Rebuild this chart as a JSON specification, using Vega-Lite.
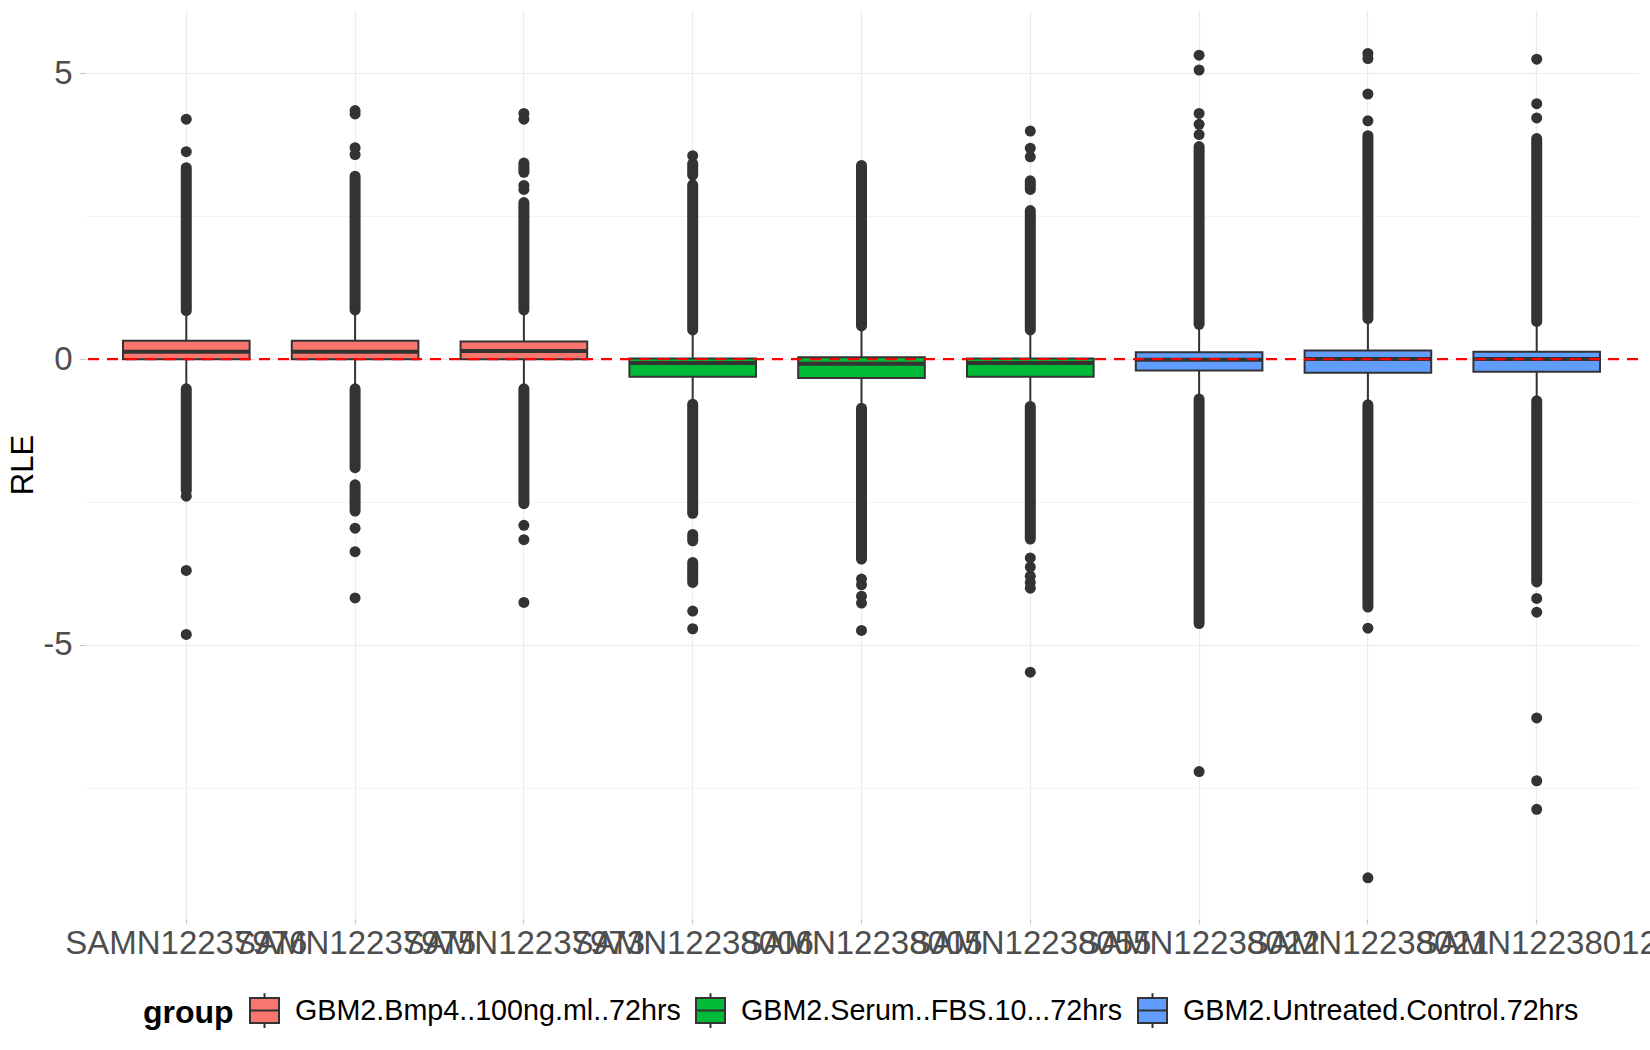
{
  "$schema": "https://vega.github.io/schema/vega-lite/v6.json",
  "width": 1553,
  "height": 909,
  "autosize": {"type": "none"},
  "padding": {"left": 85, "top": 10, "right": 12, "bottom": 131},
  "background": "white",
  "config": {"view": {"stroke": null}, "font": "Liberation Sans"},
  "datasets": {
    "boxes": [
      {"sample": "SAMN12237976", "group": "GBM2.Bmp4..100ng.ml..72hrs", "lo": -0.52, "q1": -0.005, "median": 0.13, "q3": 0.32, "hi": 0.85},
      {"sample": "SAMN12237975", "group": "GBM2.Bmp4..100ng.ml..72hrs", "lo": -0.52, "q1": -0.005, "median": 0.13, "q3": 0.32, "hi": 0.86},
      {"sample": "SAMN12237973", "group": "GBM2.Bmp4..100ng.ml..72hrs", "lo": -0.52, "q1": -0.005, "median": 0.14, "q3": 0.31, "hi": 0.86},
      {"sample": "SAMN12238006", "group": "GBM2.Serum..FBS.10...72hrs", "lo": -0.79, "q1": -0.31, "median": -0.07, "q3": 0.01, "hi": 0.51},
      {"sample": "SAMN12238005", "group": "GBM2.Serum..FBS.10...72hrs", "lo": -0.86, "q1": -0.33, "median": -0.08, "q3": 0.03, "hi": 0.58},
      {"sample": "SAMN12238055", "group": "GBM2.Serum..FBS.10...72hrs", "lo": -0.83, "q1": -0.31, "median": -0.07, "q3": 0.01, "hi": 0.51},
      {"sample": "SAMN12238022", "group": "GBM2.Untreated.Control.72hrs", "lo": -0.70, "q1": -0.20, "median": -0.01, "q3": 0.12, "hi": 0.61},
      {"sample": "SAMN12238021", "group": "GBM2.Untreated.Control.72hrs", "lo": -0.80, "q1": -0.24, "median": 0.0, "q3": 0.15, "hi": 0.71},
      {"sample": "SAMN12238012", "group": "GBM2.Untreated.Control.72hrs", "lo": -0.73, "q1": -0.22, "median": 0.0, "q3": 0.13, "hi": 0.66}
    ],
    "runs": [
      {"sample": "SAMN12237976", "lo": 0.85, "hi": 3.35},
      {"sample": "SAMN12237976", "lo": -0.52, "hi": -2.30},
      {"sample": "SAMN12237975", "lo": 0.86, "hi": 3.20},
      {"sample": "SAMN12237975", "lo": -0.52, "hi": -1.90},
      {"sample": "SAMN12237975", "lo": -2.20, "hi": -2.66},
      {"sample": "SAMN12237973", "lo": 0.86, "hi": 2.74},
      {"sample": "SAMN12237973", "lo": 3.27, "hi": 3.43},
      {"sample": "SAMN12237973", "lo": -0.52, "hi": -2.53},
      {"sample": "SAMN12238006", "lo": 0.51, "hi": 3.05},
      {"sample": "SAMN12238006", "lo": 3.22, "hi": 3.42},
      {"sample": "SAMN12238006", "lo": -0.79, "hi": -2.70},
      {"sample": "SAMN12238006", "lo": -3.07, "hi": -3.18},
      {"sample": "SAMN12238006", "lo": -3.56, "hi": -3.91},
      {"sample": "SAMN12238005", "lo": 0.58, "hi": 3.39},
      {"sample": "SAMN12238005", "lo": -0.86, "hi": -3.50},
      {"sample": "SAMN12238055", "lo": 0.51, "hi": 2.60},
      {"sample": "SAMN12238055", "lo": 2.97, "hi": 3.12},
      {"sample": "SAMN12238055", "lo": -0.83, "hi": -3.15},
      {"sample": "SAMN12238022", "lo": 0.61, "hi": 3.72},
      {"sample": "SAMN12238022", "lo": -0.70, "hi": -4.63},
      {"sample": "SAMN12238021", "lo": 0.71, "hi": 3.91},
      {"sample": "SAMN12238021", "lo": -0.80, "hi": -4.34},
      {"sample": "SAMN12238012", "lo": 0.66, "hi": 3.86},
      {"sample": "SAMN12238012", "lo": -0.73, "hi": -3.90}
    ],
    "points": [
      {"sample": "SAMN12237976", "rle": 4.20},
      {"sample": "SAMN12237976", "rle": 3.63},
      {"sample": "SAMN12237976", "rle": -2.40},
      {"sample": "SAMN12237976", "rle": -3.70},
      {"sample": "SAMN12237976", "rle": -4.82},
      {"sample": "SAMN12237975", "rle": 4.35},
      {"sample": "SAMN12237975", "rle": 4.29},
      {"sample": "SAMN12237975", "rle": 3.70},
      {"sample": "SAMN12237975", "rle": 3.58},
      {"sample": "SAMN12237975", "rle": -2.96},
      {"sample": "SAMN12237975", "rle": -3.37},
      {"sample": "SAMN12237975", "rle": -4.18},
      {"sample": "SAMN12237973", "rle": 4.30},
      {"sample": "SAMN12237973", "rle": 4.20},
      {"sample": "SAMN12237973", "rle": 3.04},
      {"sample": "SAMN12237973", "rle": 2.97},
      {"sample": "SAMN12237973", "rle": -2.91},
      {"sample": "SAMN12237973", "rle": -3.16},
      {"sample": "SAMN12237973", "rle": -4.26},
      {"sample": "SAMN12238006", "rle": 3.56},
      {"sample": "SAMN12238006", "rle": -4.41},
      {"sample": "SAMN12238006", "rle": -4.72},
      {"sample": "SAMN12238005", "rle": -3.85},
      {"sample": "SAMN12238005", "rle": -3.95},
      {"sample": "SAMN12238005", "rle": -4.15},
      {"sample": "SAMN12238005", "rle": -4.27},
      {"sample": "SAMN12238005", "rle": -4.75},
      {"sample": "SAMN12238055", "rle": 3.99},
      {"sample": "SAMN12238055", "rle": 3.69},
      {"sample": "SAMN12238055", "rle": 3.54},
      {"sample": "SAMN12238055", "rle": -3.48},
      {"sample": "SAMN12238055", "rle": -3.64},
      {"sample": "SAMN12238055", "rle": -3.80},
      {"sample": "SAMN12238055", "rle": -3.91},
      {"sample": "SAMN12238055", "rle": -4.01},
      {"sample": "SAMN12238055", "rle": -5.48},
      {"sample": "SAMN12238022", "rle": 5.32},
      {"sample": "SAMN12238022", "rle": 5.06},
      {"sample": "SAMN12238022", "rle": 4.30},
      {"sample": "SAMN12238022", "rle": 4.11},
      {"sample": "SAMN12238022", "rle": 3.93},
      {"sample": "SAMN12238022", "rle": -7.22},
      {"sample": "SAMN12238021", "rle": 5.35},
      {"sample": "SAMN12238021", "rle": 5.26},
      {"sample": "SAMN12238021", "rle": 4.64},
      {"sample": "SAMN12238021", "rle": 4.17},
      {"sample": "SAMN12238021", "rle": -4.71},
      {"sample": "SAMN12238021", "rle": -9.08},
      {"sample": "SAMN12238012", "rle": 5.25},
      {"sample": "SAMN12238012", "rle": 4.47},
      {"sample": "SAMN12238012", "rle": 4.22},
      {"sample": "SAMN12238012", "rle": -4.19},
      {"sample": "SAMN12238012", "rle": -4.43},
      {"sample": "SAMN12238012", "rle": -6.28},
      {"sample": "SAMN12238012", "rle": -7.38},
      {"sample": "SAMN12238012", "rle": -7.88}
    ]
  },
  "layer": [
    {
      "data": {"name": "runs"},
      "mark": {"type": "rule", "color": "#333333", "strokeWidth": 11, "strokeCap": "round"},
      "encoding": {
        "x": {
          "field": "sample",
          "type": "nominal",
          "sort": null,
          "scale": {
            "domain": ["SAMN12237976", "SAMN12237975", "SAMN12237973", "SAMN12238006", "SAMN12238005", "SAMN12238055", "SAMN12238022", "SAMN12238021", "SAMN12238012"],
            "paddingInner": 0.25,
            "paddingOuter": 0.225
          },
          "axis": {
            "title": null,
            "labelAngle": 0,
            "labelFontSize": 33,
            "labelColor": "#4D4D4D",
            "labelOverlap": false,
            "labelBound": false,
            "labelLimit": 1000,
            "labelPadding": 3,
            "domain": false,
            "ticks": true,
            "tickSize": 5,
            "tickColor": "#C8C8C8",
            "tickWidth": 1.2,
            "grid": true,
            "gridColor": "#EBEBEB",
            "gridWidth": 1.2,
            "bandPosition": 0.5
          }
        },
        "y": {
          "field": "lo",
          "type": "quantitative",
          "scale": {"domain": [-9.8, 6.11], "nice": false, "zero": false},
          "axis": {
            "title": "RLE",
            "titleFontSize": 31,
            "titleColor": "black",
            "titleFontWeight": "normal",
            "titlePadding": 3,
            "values": [-7.5, -5, -2.5, 0, 2.5, 5],
            "labelExpr": "datum.value % 5 == 0 ? (datum.value < 0 ? '-' + abs(datum.value) : '' + datum.value) : ''",
            "labelFontSize": 33,
            "labelColor": "#4D4D4D",
            "labelPadding": 7,
            "domain": false,
            "tickSize": 6,
            "tickColor": "#C8C8C8",
            "tickWidth": 1.2,
            "tickOpacity": {"condition": {"test": "datum.value % 5 == 0", "value": 1}, "value": 0},
            "grid": true,
            "gridColor": "#EBEBEB",
            "gridWidth": {"condition": {"test": "datum.value % 5 == 0", "value": 1.2}, "value": 0.6}
          }
        },
        "y2": {"field": "hi"}
      }
    },
    {
      "data": {"name": "points"},
      "mark": {"type": "point", "filled": true, "shape": "circle", "color": "#333333", "opacity": 1, "size": 121, "strokeWidth": 0},
      "encoding": {
        "x": {"field": "sample", "type": "nominal", "sort": null},
        "y": {"field": "rle", "type": "quantitative", "title": "RLE"}
      }
    },
    {
      "data": {"name": "boxes"},
      "mark": {"type": "rule", "color": "#333333", "strokeWidth": 2},
      "encoding": {
        "x": {"field": "sample", "type": "nominal", "sort": null},
        "y": {"field": "lo", "type": "quantitative", "title": "RLE"},
        "y2": {"field": "hi"}
      }
    },
    {
      "data": {"name": "boxes"},
      "mark": {"type": "bar", "stroke": "#333333", "strokeWidth": 2, "opacity": 1},
      "encoding": {
        "x": {"field": "sample", "type": "nominal", "sort": null},
        "y": {"field": "q1", "type": "quantitative", "title": "RLE"},
        "y2": {"field": "q3"},
        "fill": {
          "field": "group",
          "type": "nominal",
          "scale": {
            "domain": ["GBM2.Bmp4..100ng.ml..72hrs", "GBM2.Serum..FBS.10...72hrs", "GBM2.Untreated.Control.72hrs"],
            "range": ["#F8766D", "#00BA38", "#619CFF"]
          },
          "legend": {
            "title": "group",
            "orient": "none",
            "legendX": 58,
            "legendY": 985,
            "direction": "horizontal",
            "titleOrient": "left",
            "titleFontSize": 32,
            "titleFontWeight": "bold",
            "titleColor": "black",
            "titlePadding": 15,
            "labelFontSize": 28.7,
            "labelColor": "black",
            "labelOffset": 15,
            "columnPadding": 11,
            "labelLimit": 1000,
            "symbolType": "M-1,-0.86H1V0.86H-1Z M0,-0.86V-1.2 M0,0.86V1.2 M-1,0H1",
            "symbolSize": 841,
            "symbolStrokeColor": "#333333",
            "symbolStrokeWidth": 2,
            "symbolOpacity": 1
          }
        }
      }
    },
    {
      "data": {"name": "boxes"},
      "mark": {"type": "tick", "color": "#333333", "thickness": 4, "size": 127, "opacity": 1},
      "encoding": {
        "x": {"field": "sample", "type": "nominal", "sort": null},
        "y": {"field": "median", "type": "quantitative", "title": "RLE"}
      }
    },
    {
      "data": {"values": [{"ref": 0}]},
      "mark": {"type": "rule", "color": "#FF0000", "strokeWidth": 2.2, "strokeDash": [11, 8]},
      "encoding": {
        "y": {"field": "ref", "type": "quantitative", "title": "RLE"}
      }
    }
  ]
}
